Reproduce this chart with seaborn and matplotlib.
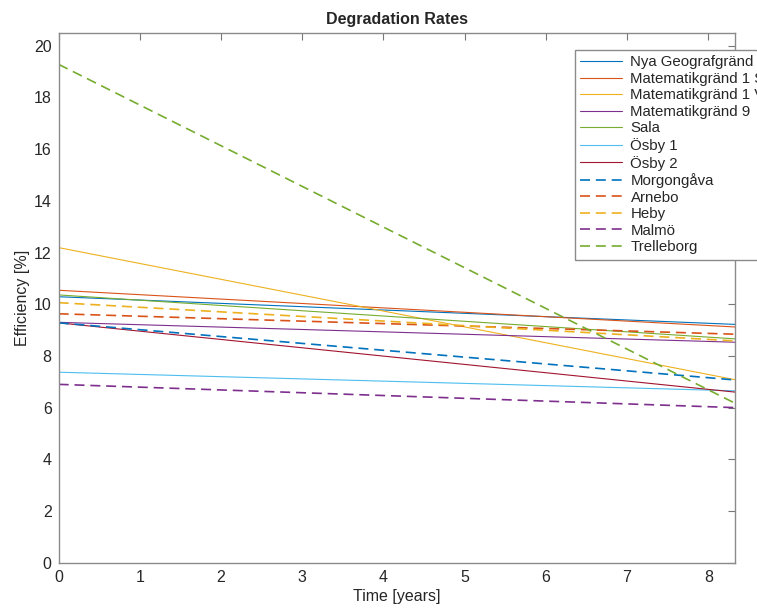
import numpy as np
import pandas as pd
import seaborn as sns
import matplotlib.pyplot as plt

# time span (years) and efficiency at start / end
years = [0, 8.33]

sites = ['Nya Geografgränd', 'Matematikgränd 1 S', 'Matematikgränd 1 V', 'Matematikgränd 9',
         'Sala', 'Ösby 1', 'Ösby 2', 'Morgongåva', 'Arnebo', 'Heby', 'Malmö', 'Trelleborg']
eff_start = [10.29, 10.54, 12.19, 9.30, 10.36, 7.37, 9.28, 9.28, 9.63, 10.06, 6.90, 19.28]
eff_end = [9.22, 9.12, 7.08, 8.53, 8.66, 6.65, 6.60, 7.07, 8.84, 8.58, 6.00, 6.17]
dashed = [False] * 7 + [True] * 5

matlab_colors = ['#0072BD', '#D95319', '#EDB120', '#7E2F8E', '#77AC30', '#4DBEEE', '#A2142F']
site_colors = matlab_colors + matlab_colors[:5]

sns.set_style('white')
plt.rcParams['font.family'] = ['Liberation Sans', 'DejaVu Sans']

fig = plt.figure(figsize=(7.57, 6.08), dpi=100)
ax = fig.add_axes([0.0775, 0.0745, 0.8935, 0.8715])

for i, name in enumerate(sites):
    df = pd.DataFrame({'t': years, 'eff': [eff_start[i], eff_end[i]]})
    if dashed[i]:
        sns.lineplot(data=df, x='t', y='eff', ax=ax, color=site_colors[i], lw=1.2,
                     dashes=False, label=name, linestyle=(0, (6, 3.5)))
    else:
        sns.lineplot(data=df, x='t', y='eff', ax=ax, color=site_colors[i], lw=0.8,
                     label=name)

ax.set_xlim(0, 8.33)
ax.set_ylim(0, 20.5)
ax.set_xticks(range(0, 9))
ax.set_yticks(range(0, 21, 2))
ax.tick_params(direction='in', length=5, width=0.8, color='#777777', labelsize=11.5,
               labelcolor='#262626', top=True, right=True, pad=5)
for s in ax.spines.values():
    s.set_color('#8a8a8a')
    s.set_linewidth(1.0)

ax.set_title('Degradation Rates', fontsize=11.5, fontweight='bold', pad=6)
ax.set_xlabel('Time [years]', fontsize=11.5, color='#262626', labelpad=3)
ax.set_ylabel('Efficiency [%]', fontsize=11.5, color='#262626', labelpad=3)

leg = ax.legend(loc='upper left', bbox_to_anchor=(575 / 757, 1 - 50 / 608),
                bbox_transform=fig.transFigure, borderaxespad=0, fontsize=10.8,
                handlelength=2.8, handletextpad=0.55, labelspacing=0.17,
                borderpad=0.35, fancybox=False, framealpha=1)
leg.get_frame().set_edgecolor('#8a8a8a')
leg.get_frame().set_linewidth(1.0)
leg.set_zorder(5)

fig.savefig('out.png', dpi=100)
